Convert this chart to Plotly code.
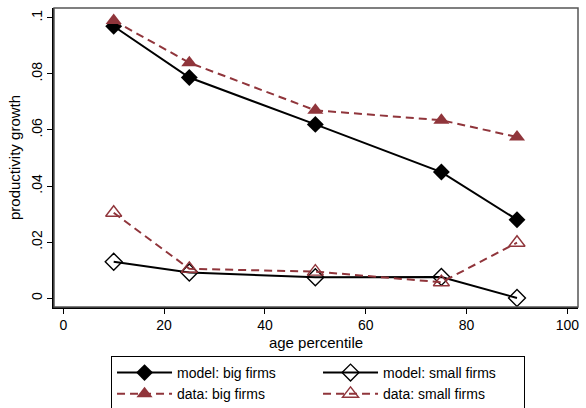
import plotly.graph_objects as go

# age percentiles at which productivity growth is measured
age_pct = [10, 25, 50, 75, 90]

model_big = [0.097, 0.0787, 0.062, 0.045, 0.028]
model_small = [0.013, 0.0092, 0.0075, 0.0076, 0.0001]
data_big = [0.099, 0.084, 0.067, 0.0635, 0.0575]
data_small = [0.0305, 0.0105, 0.0095, 0.0057, 0.0198]

x_ticks = [0, 20, 40, 60, 80, 100]
y_ticks = [0, 0.02, 0.04, 0.06, 0.08, 0.1]
y_tick_text = ["0", ".02", ".04", ".06", ".08", ".1"]

MAROON = "#90353B"
FONT = "Liberation Sans, Arial, sans-serif"

fig = go.Figure()

fig.add_trace(go.Scatter(
    x=age_pct, y=model_big, name="model: big firms", mode="lines+markers",
    line=dict(color="black", width=2),
    marker=dict(symbol="diamond", size=13, color="black"),
))
fig.add_trace(go.Scatter(
    x=age_pct, y=model_small, name="model: small firms", mode="lines+markers",
    line=dict(color="black", width=2),
    marker=dict(symbol="diamond-open", size=13, color="black", line=dict(width=1.4)),
))
fig.add_trace(go.Scatter(
    x=age_pct, y=data_big, name="data: big firms", mode="lines+markers",
    line=dict(color=MAROON, width=2, dash="8px,5px"),
    marker=dict(symbol="triangle-up", size=14, color=MAROON),
))
fig.add_trace(go.Scatter(
    x=age_pct, y=data_small, name="data: small firms", mode="lines+markers",
    line=dict(color=MAROON, width=2, dash="8px,5px"),
    marker=dict(symbol="triangle-up-open", size=14, color=MAROON, line=dict(width=1.4)),
))

# plot-region frame
fig.add_shape(type="rect", xref="paper", yref="paper", x0=0, y0=0, x1=1, y1=1,
              line=dict(color="#555555", width=1.5), layer="above")

fig.update_layout(
    width=586, height=408,
    margin=dict(l=54, r=7, t=8, b=59),
    paper_bgcolor="white", plot_bgcolor="white",
    font=dict(family=FONT, size=14, color="black"),
    showlegend=True,
    legend=dict(
        orientation="h", xref="container", yref="container",
        x=0.5427, xanchor="center", y=0.1275, yanchor="top",
        entrywidth=136, entrywidthmode="pixels",
        bordercolor="black", borderwidth=1, bgcolor="white",
        font=dict(family=FONT, size=14), tracegroupgap=0,
        itemwidth=55,
    ),
    xaxis=dict(
        range=[-1.84, 102.1], tickvals=x_ticks, ticks="outside", ticklen=5,
        tickcolor="black", showgrid=False, zeroline=False,
        showline=True, linecolor="black", linewidth=1.5,
        title=dict(text="age percentile", standoff=5, font=dict(size=15)),
        tickfont=dict(size=14),
    ),
    yaxis=dict(
        range=[-0.0031, 0.1035], tickvals=y_ticks, ticktext=y_tick_text,
        ticks="outside", ticklen=5, tickcolor="black", tickangle=-90,
        showgrid=False, zeroline=False,
        showline=True, linecolor="black", linewidth=1.5,
        title=dict(text="productivity growth", standoff=4, font=dict(size=15)),
        tickfont=dict(size=14),
    ),
)

fig.write_html("out.html")
